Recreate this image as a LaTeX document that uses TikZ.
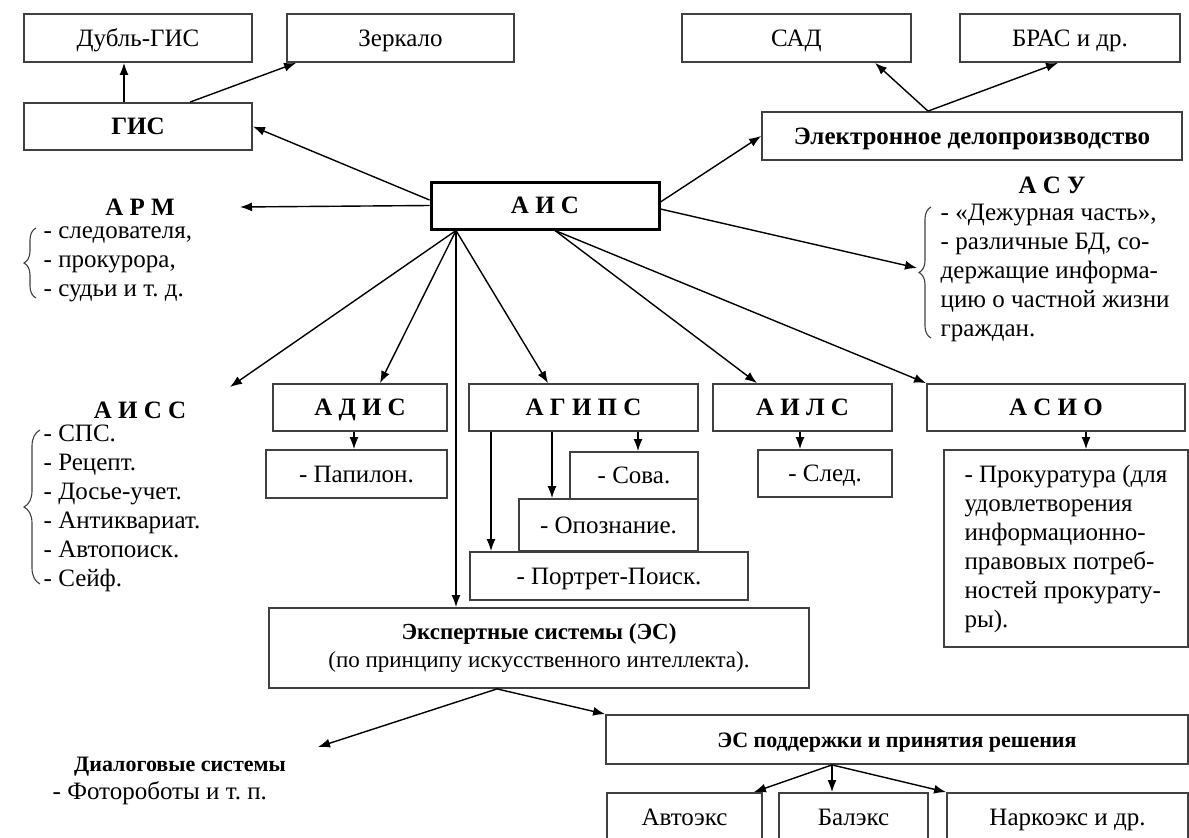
\documentclass[tikz,border=0pt]{standalone}
\usepackage{fontspec}
\setmainfont{Liberation Serif}
\usetikzlibrary{arrows.meta,decorations.pathreplacing}

\tikzset{
  block/.style={rectangle,draw=black!75,line width=1.8pt,inner sep=0pt,align=center},
  one/.style={text height=0.8em,text depth=0.14em},
  wh/.style 2 args={minimum width=#1,minimum height=#2},
  abbr/.style={font=\bfseries},
  small/.style={font=\fontsize{22}{28}\selectfont},
  lst/.style={align=left,inner sep=0pt,anchor=west},
  brc/.style={decorate,decoration={brace,amplitude=#1},line width=1.1pt,black!75}
}

\begin{document}
\begin{tikzpicture}[x=1pt,y=-1pt,line width=1.4pt,>={Latex[length=12pt,width=9pt]}]
\fontsize{25}{29}\selectfont
\useasboundingbox (0,0) rectangle (1189,838);
\clip (0,0) rectangle (1189,838);

% top row
\draw (138,38) node[block,one,wh={228}{48}] (dubl) {Дубль-ГИС};
\draw (400.5,38) node[block,one,wh={227}{48}] (zerk) {Зеркало};
\draw (796.5,38) node[block,one,wh={229}{48}] (sad) {САД};
\draw (1070,38) node[block,one,wh={220}{48}] (bras) {БРАС и др.};
\draw (138,126.5) node[block,one,wh={228}{47},font=\bfseries] (gis) {ГИС};
\draw (972,136) node[block,one,wh={420}{48},font=\bfseries] (edo) {Электронное делопроизводство};
\draw (545,205.5) node[block,one,wh={228}{47},draw=black,line width=3pt,abbr] (ais) {А И С};

\draw[->] ([xshift=-14pt]gis.north) -- ([xshift=-14pt]dubl.south);
\draw[->] ([xshift=52pt]gis.north) -- ([xshift=10pt]zerk.south west);
\draw[->] ([xshift=-44pt]edo.north) -- ([xshift=78.5pt]sad.south);
\draw[->] ([xshift=-44pt]edo.north) -- ([xshift=-12pt]bras.south);
\draw[->] ([yshift=5.5pt]ais.west) -- (gis.east);
\draw[->] ([yshift=3.5pt]ais.east) -- (edo.west);

% APM
\draw (140,207) node[abbr,one] (arm) {А Р М};
\coordinate (armtip) at (240,207);
\draw (43,264.5) node[lst] (armlist) {- следователя,\\- прокурора,\\- судьи и т.~д.};
\draw[brc=12pt] (36,298) -- (36,228);
\draw[->] (ais.west) -- (armtip);

% ACY
\draw (1052,185) node[abbr,one] (asu) {А С У};
\draw (940,272.5) node[lst] (asulist) {- «Дежурная часть»,\\- различные БД, со-\\держащие информа-\\цию о частной жизни\\граждан.};
\draw[brc=12pt] (931,338) -- (931,207);
\coordinate (asutip) at (917,268);
\draw[->] ([yshift=-3.5pt]ais.east) -- (asutip);

% AICC
\draw (140,410) node[abbr,one] (aiss) {А И С С};
\draw (43,508.5) node[lst] (aisslist) {- СПС.\\- Рецепт.\\- Досье-учет.\\- Антиквариат.\\- Автопоиск.\\- Сейф.};
\draw[brc=16pt] (40,584) -- (40,430);
\coordinate (aisstip) at (230,387);
\draw[->] ([xshift=-89pt]ais.south) -- (aisstip);

% second row
\draw (360,407.5) node[block,one,wh={174}{47},abbr] (adis) {А Д И С};
\draw (356.5,474) node[block,one,wh={181}{48}] (papil) {- Папилон.};
\draw (583.5,407.5) node[block,one,wh={229}{47},abbr] (agips) {А Г И П С};
\draw (634,475.5) node[block,one,wh={128}{47}] (sova) {- Сова.};
\draw (608.5,525) node[block,one,wh={179}{52}] (opozn) {- Опознание.};
\draw (609,576) node[block,one,wh={278}{48}] (portr) {- Портрет-Поиск.};
\draw (802.5,407.5) node[block,one,wh={179}{47},abbr] (ails) {А И Л С};
\draw (825,473.5) node[block,one,wh={134}{47}] (sled) {- След.};
\draw (1056,407.5) node[block,one,wh={258}{47},abbr] (asio) {А С И О};
\draw (1066,548.5) node[block,wh={244}{197},align=left] (prok) {- Прокуратура (для\\удовлетворения\\информационно-\\правовых потреб-\\ностей прокурату-\\ры).};

\draw[->] ([xshift=-89pt]ais.south) -- ([xshift=20pt]adis.north);
\draw[->] ([xshift=-89pt]ais.south) -- ([xshift=-35.5pt]agips.north);
\draw[->] ([xshift=10pt]ais.south) -- ([xshift=-45.5pt]ails.north);
\draw[->] ([xshift=10pt]ais.south) -- (asio.north west);
\draw[->] ([xshift=-6pt]adis.south) -- ([xshift=-6pt]adis.south |- papil.north);
\draw[->] ([xshift=54.5pt]agips.south) -- ([xshift=54.5pt]agips.south |- sova.north);
\draw[->] ([xshift=-31.5pt]agips.south) -- ([xshift=-31.5pt]agips.south |- opozn.north);
\draw[->] ([xshift=-92.5pt]agips.south) -- ([xshift=-92.5pt]agips.south |- portr.north);
\draw[->] ([xshift=-2.5pt]ails.south) -- ([xshift=-2.5pt]ails.south |- sled.north);
\draw[->] ([xshift=30pt]asio.south) -- ([xshift=30pt]asio.south |- prok.north);

% expert systems
\draw (539,648) node[block,wh={540}{80},font=\fontsize{23}{28}\selectfont] (es) {\textbf{Экспертные системы (ЭС)}\\(по принципу искусственного интеллекта).};
\draw[->] ([xshift=-89pt]ais.south) -- ([xshift=-89pt]ais.south |- es.north);
\draw (897,739.5) node[block,one,wh={582}{49},small] (esp) {\bfseries ЭС поддержки и принятия решения};
\draw (180,763) node[small,one] (dlg) {\bfseries Диалоговые системы};
\draw (52,793) node[lst] (foto) {- Фотороботы и т.~п.};
\coordinate (dlgtip) at (318,747);
\draw[->] ([xshift=-42pt]es.south) -- (dlgtip);
\draw[->] ([xshift=-42pt]es.south) -- (esp.north west);

\draw (684.5,817) node[block,one,wh={155}{48}] (avto) {Автоэкс};
\draw (853.5,817) node[block,one,wh={149}{48}] (balex) {Балэкс};
\draw (1067.5,817) node[block,one,wh={241}{48}] (narko) {Наркоэкс и др.};
\draw[->] ([xshift=-65pt]esp.south) -- ([xshift=-9pt]avto.north east);
\draw[->] ([xshift=-65pt]esp.south) -- ([xshift=-65pt]esp.south |- balex.north);
\draw[->] ([xshift=-65pt]esp.south) -- (narko.north west);
\end{tikzpicture}
\end{document}
